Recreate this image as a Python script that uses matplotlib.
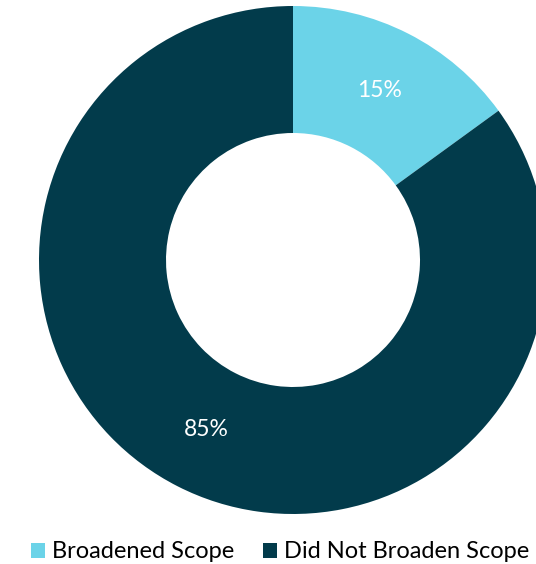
import numpy as np
import matplotlib.pyplot as plt
from matplotlib.patches import Patch

labels = ['Broadened Scope', 'Did Not Broaden Scope']
shares = [15, 85]
colors = ['#6BD3E8', '#023B4B']

plt.rcParams['font.family'] = ['Lato', 'DejaVu Sans']

fig = plt.figure(figsize=(5.36, 5.64), dpi=100)
# axes placed so the ring runs off the right edge of the figure
ax = fig.add_axes([39 / 536, 50 / 564, 508 / 536, 508 / 564])
wedges, _ = ax.pie(shares, colors=colors, startangle=90, counterclock=False,
                   radius=1.0, wedgeprops=dict(width=0.5, linewidth=0))
for w in wedges:
    w.set_clip_on(False)

# percentage labels in the middle of the ring
start = 90.0
for val in shares:
    mid = start - val * 3.6 / 2
    r = 0.75
    ax.text(r * np.cos(np.radians(mid)), r * np.sin(np.radians(mid)),
            f'{val}%', color='white', fontsize=16.5, ha='center', va='center')
    start -= val * 3.6
ax.set_xlim(-1, 1)
ax.set_ylim(-1, 1)
ax.set_aspect('equal')
ax.axis('off')

handles = [Patch(facecolor=c, edgecolor='none') for c in colors]
fig.legend(handles, labels, loc='center left', bbox_to_anchor=(31 / 536, 1 - 552 / 564),
           ncol=2, frameon=False, fontsize=17, handlelength=0.6, handleheight=0.6,
           handletextpad=0.3, columnspacing=1.2, borderaxespad=0, borderpad=0)

fig.savefig('out.png', dpi=100)
